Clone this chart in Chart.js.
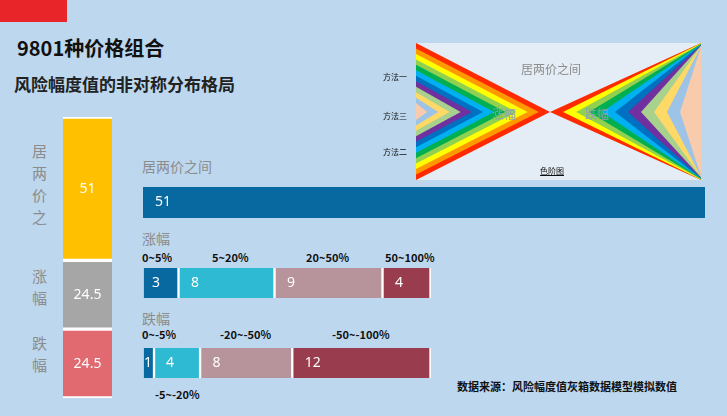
<!DOCTYPE html><html><head><meta charset="utf-8">
<script src="https://cdn.jsdelivr.net/npm/chart.js@4"></script>
<style>
body{margin:0;width:727px;height:416px;background:#bdd7ee;position:relative;overflow:hidden;font-family:"Noto Sans CJK SC","Noto Sans",sans-serif}
.a{position:absolute;white-space:nowrap}
canvas{position:absolute}
.g{color:#8c8c8c;font-size:14px}
.c{font-size:11px;font-weight:bold;color:#111}
</style></head><body>
<div class="a" style="left:0;top:0;width:67px;height:22px;background:#e8262a"></div>
<div class="a" style="left:17px;top:33px;font-size:20px;font-weight:bold;color:#111">9801种价格组合</div>
<div class="a" style="left:14px;top:71px;font-size:17px;font-weight:bold;color:#222">风险幅度值的非对称分布格局</div>
<div class="a g" style="left:32px;top:140px;font-size:15px;line-height:22px;width:16px;white-space:normal">居两价之</div>
<div class="a g" style="left:32px;top:265px;font-size:15px;line-height:22px;width:16px;white-space:normal">涨幅</div>
<div class="a g" style="left:32px;top:332px;font-size:15px;line-height:22px;width:16px;white-space:normal">跌幅</div>
<div class="a g" style="left:142px;top:156px">居两价之间</div>
<div class="a g" style="left:142px;top:228px">涨幅</div>
<div class="a g" style="left:142px;top:308px">跌幅</div>
<div class="a c" style="left:142px;top:249px">0~5%</div>
<div class="a c" style="left:212px;top:249px">5~20%</div>
<div class="a c" style="left:306px;top:249px">20~50%</div>
<div class="a c" style="left:385px;top:249px">50~100%</div>
<div class="a c" style="left:142px;top:326px">0~-5%</div>
<div class="a c" style="left:220px;top:326px">-20~-50%</div>
<div class="a c" style="left:332px;top:326px">-50~-100%</div>
<div class="a c" style="left:155px;top:386px">-5~-20%</div>
<div class="a" style="left:457px;top:378px;font-size:11px;font-weight:bold;color:#111">数据来源：风险幅度值灰箱数据模型模拟数值</div>
<canvas id="inset" width="285" height="137" style="left:416px;top:43px"></canvas>
<div class="a" style="left:521px;top:60px;font-size:12px;color:#8c8c8c">居两价之间</div>
<div class="a" style="left:492px;top:105px;font-size:12px;color:#8a9fb5">涨幅</div>
<div class="a" style="left:585px;top:105px;font-size:12px;color:#8a9fb5">跌幅</div>
<div class="a" style="left:383px;top:71px;font-size:8px;color:#111">方法一</div>
<div class="a" style="left:383px;top:110px;font-size:8px;color:#111">方法三</div>
<div class="a" style="left:383px;top:146px;font-size:8px;color:#111">方法二</div>
<div class="a" style="left:540px;top:165px;font-size:8px;color:#111;text-decoration:underline">色阶图</div>
<canvas id="cL" style="left:63px;top:117px;width:49px;height:281px"></canvas>
<canvas id="cT" style="left:143px;top:187px;width:562px;height:31px"></canvas>
<canvas id="cR" style="left:143px;top:268px;width:288px;height:30px"></canvas>
<canvas id="cF" style="left:143px;top:348px;width:288px;height:30px"></canvas>
<script>
const leftCats=["跌幅","涨幅","居两价之"];
const leftVals=[24.5,24.5,51];
const leftColors=["#e06a70","#a6a6a6","#ffc000"];
const middleVal=[51];
const riseCats=["0~5%","5~20%","20~50%","50~100%"];
const riseVals=[3,8,9,4];
const fallCats=["0~-5%","-5~-20%","-20~-50%","-50~-100%"];
const fallVals=[1,4,8,12];
const segColors=["#0868a0","#2fbad3","#b7949b","#983c4e"];

const labelPlugin={id:'lbl',afterDatasetsDraw(ch,a,opt){const c=ch.ctx;c.save();c.fillStyle='#fff';c.font='14px "Noto Sans","Open Sans",sans-serif';c.textBaseline='middle';
ch.data.datasets.forEach((d,i)=>{const el=ch.getDatasetMeta(i).data[0];const v=d.data[0];
if(opt.center){c.textAlign='center';c.fillText(v,el.x,el.y+(el.base-el.y)/2);}
else{c.textAlign='left';const x0=el.base;const w=el.x-el.base;c.fillText(v,w<14?x0+1:x0+Math.min(12,w*0.25),el.y);}});c.restore();}};
function mk(id,w,h,vals,colors,horiz,max,center,bw){
 const cv=document.getElementById(id);cv.width=w;cv.height=h;
 new Chart(cv,{type:'bar',data:{labels:[''],datasets:vals.map((v,i)=>({data:[v],backgroundColor:colors[i],borderColor:'#ffffff',borderWidth:bw,borderSkipped:false,barPercentage:1,categoryPercentage:1}))},
 options:{indexAxis:horiz?'y':'x',responsive:false,animation:false,layout:{padding:0},
 plugins:{legend:{display:false},tooltip:{enabled:false},lbl:{center}},
 scales:{x:{display:false,stacked:true,min:0,max:horiz?max:undefined,grid:{display:false}},y:{display:false,stacked:true,min:0,max:horiz?undefined:max,grid:{display:false}}}},plugins:[labelPlugin]});
}
mk('cL',49,281,leftVals,leftColors,false,100,true,{top:2,bottom:2});
mk('cT',562,31,middleVal,["#0868a0"],true,51,false,0);
mk('cR',288,30,riseVals,segColors,true,24,false,{right:2,left:1});
mk('cF',288,30,fallVals,segColors,true,25,false,{right:2,left:1});

// decorative inset (color-scale picture)
const ic=document.getElementById('inset').getContext('2d');
ic.fillStyle='#e4ecf5';ic.fillRect(0,0,285,137);
const W=285,H=137,cx=134,cy=69;
const Lc=["#ff2a00","#ff9900","#ffff00","#92d050","#00b050","#00b0f0","#0070c0","#7030a0","#a9d18e","#ffd966","#9dc3e6","#f8cbad"];
const Rc=["#ff2a00","#ffff00","#92d050","#00b050","#00b0f0","#0070c0","#7030a0","#a9d18e","#ffd966","#9dc3e6","#f8cbad"];
Lc.forEach((col,i)=>{const t=i/Lc.length;ic.fillStyle=col;ic.beginPath();
 ic.moveTo(0,0+ t*cy*0.95);ic.lineTo(cx-t*cx,cy);ic.lineTo(0,H-t*cy*0.95);ic.closePath();ic.fill();});
Rc.forEach((col,i)=>{const t=i/Rc.length;ic.fillStyle=col;ic.beginPath();
 ic.moveTo(W,0+t*4);ic.lineTo(cx+t*(W-cx-8),cy);ic.lineTo(W,H-t*4);ic.closePath();ic.fill();});
</script></body></html>
